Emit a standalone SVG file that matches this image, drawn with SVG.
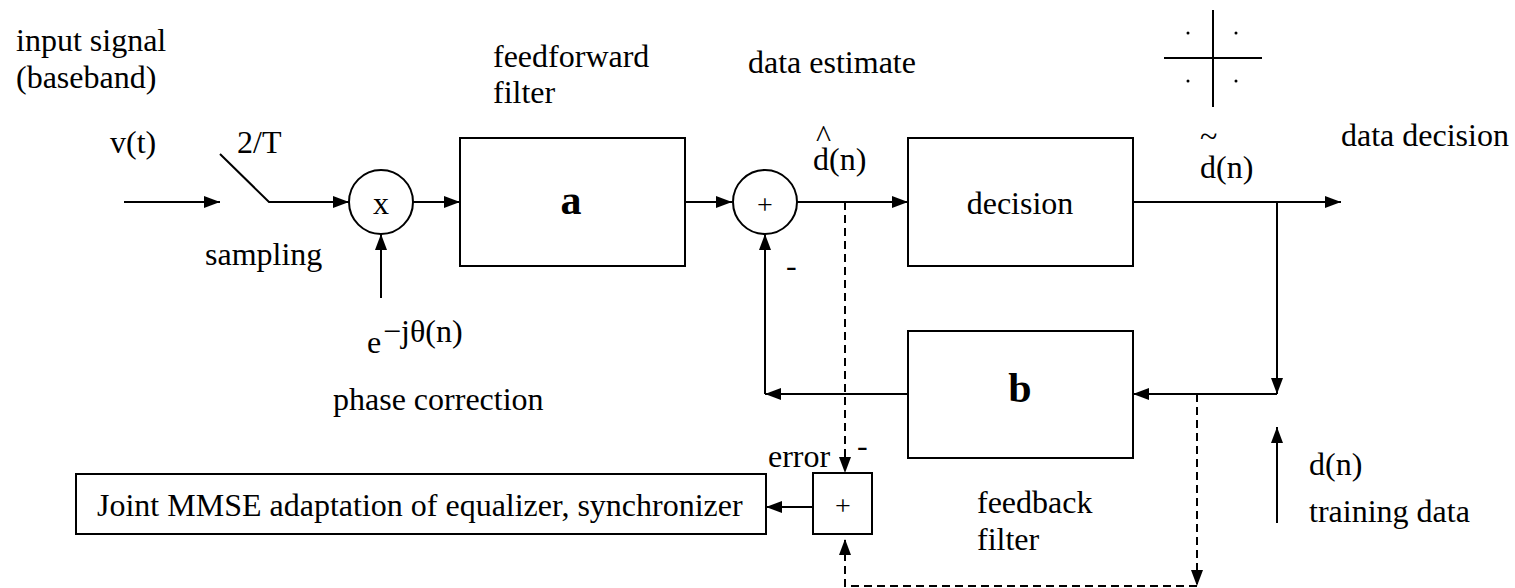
<svg xmlns="http://www.w3.org/2000/svg" width="1515" height="588" viewBox="0 0 1515 588">
<style>
text{font-family:"Liberation Serif","Times New Roman",serif;font-size:32px;fill:#000}
.bold{font-weight:bold;font-size:42px}
.box{fill:#fff;stroke:#000;stroke-width:2}
.ln{fill:none;stroke:#000;stroke-width:2}
.dash{fill:none;stroke:#000;stroke-width:2;stroke-dasharray:8,5}
</style>
<defs>
<marker id="ah" viewBox="0 0 16 12" refX="16" refY="6" markerWidth="16" markerHeight="12" orient="auto" markerUnits="userSpaceOnUse"><path d="M0,0 L16,6 L0,12 z" fill="#000"/></marker>
</defs>
<rect width="1515" height="588" fill="#fff"/>
<g id="connectors">
<line class="ln" x1="124" y1="202" x2="220" y2="202" marker-end="url(#ah)"/>
<polyline class="ln" points="220,154 269,202 349,202" marker-end="url(#ah)"/>
<line class="ln" x1="413" y1="202" x2="460" y2="202" marker-end="url(#ah)"/>
<line class="ln" x1="381" y1="298" x2="381" y2="234" marker-end="url(#ah)"/>
<line class="ln" x1="685" y1="202" x2="732" y2="202" marker-end="url(#ah)"/>
<line class="ln" x1="797" y1="202" x2="908" y2="202" marker-end="url(#ah)"/>
<line class="ln" x1="1133" y1="202" x2="1341" y2="202" marker-end="url(#ah)"/>
<line class="ln" x1="1277" y1="202" x2="1277" y2="394" marker-end="url(#ah)"/>
<line class="ln" x1="1277" y1="394" x2="1133" y2="394" marker-end="url(#ah)"/>
<line class="ln" x1="908" y1="394" x2="765" y2="394" marker-end="url(#ah)"/>
<line class="ln" x1="765" y1="394" x2="765" y2="234" marker-end="url(#ah)"/>
<line class="ln" x1="1277" y1="523" x2="1277" y2="427" marker-end="url(#ah)"/>
<line class="ln" x1="813" y1="507" x2="766" y2="507" marker-end="url(#ah)"/>
<line class="dash" x1="845" y1="202" x2="845" y2="473" marker-end="url(#ah)"/>
<line class="dash" x1="1197" y1="394" x2="1197" y2="586" marker-end="url(#ah)"/>
<polyline class="dash" points="1197,586 845,586 845,539" marker-end="url(#ah)"/>
</g>
<g id="mult">
<circle class="box" cx="381" cy="202" r="32"/>
<text x="381" y="214" text-anchor="middle">x</text>
</g>
<g id="filter-a">
<rect class="box" x="460" y="138" width="225" height="128"/>
<text class="bold" x="571" y="214" text-anchor="middle">a</text>
</g>
<g id="sum">
<circle class="box" cx="765" cy="202" r="32"/>
<text x="765" y="214" text-anchor="middle" style="font-size:28px">+</text>
</g>
<g id="decision">
<rect class="box" x="908" y="138" width="225" height="128"/>
<text x="1020" y="214" text-anchor="middle">decision</text>
</g>
<g id="filter-b">
<rect class="box" x="908" y="331" width="225" height="127"/>
<text class="bold" x="1020" y="402" text-anchor="middle">b</text>
</g>
<g id="error-sum">
<rect class="box" x="813" y="473" width="59" height="61"/>
<text x="843" y="515" text-anchor="middle" style="font-size:28px">+</text>
</g>
<g id="adaptation">
<rect class="box" x="76" y="474" width="690" height="60"/>
<text x="97" y="516">Joint MMSE adaptation of equalizer, synchronizer</text>
</g>
<g id="constellation">
<line class="ln" x1="1213" y1="10" x2="1213" y2="107"/>
<line class="ln" x1="1164" y1="58" x2="1262" y2="58"/>
<circle cx="1188" cy="33" r="1.5" fill="#000"/>
<circle cx="1236" cy="33" r="1.5" fill="#000"/>
<circle cx="1188" cy="81" r="1.5" fill="#000"/>
<circle cx="1236" cy="81" r="1.5" fill="#000"/>
</g>
<g id="labels">
<text x="16" y="51">input signal</text>
<text x="16" y="88">(baseband)</text>
<text x="110" y="153">v(t)</text>
<text x="237" y="153">2/T</text>
<text x="205" y="265">sampling</text>
<text x="367" y="353">e</text>
<text x="383" y="342">−jθ(n)</text>
<text x="333" y="410">phase correction</text>
<text x="493" y="67">feedforward</text>
<text x="493" y="103">filter</text>
<text x="748" y="73">data estimate</text>
<text x="816" y="147">^</text>
<text x="813" y="170">d(n)</text>
<text x="786" y="276">-</text>
<text x="1200" y="147">~</text>
<text x="1200" y="178">d(n)</text>
<text x="1341" y="146">data decision</text>
<text x="768" y="467">error</text>
<text x="857" y="456">-</text>
<text x="977" y="513">feedback</text>
<text x="977" y="550">filter</text>
<text x="1309" y="475">d(n)</text>
<text x="1309" y="522">training data</text>
</g>
</svg>
